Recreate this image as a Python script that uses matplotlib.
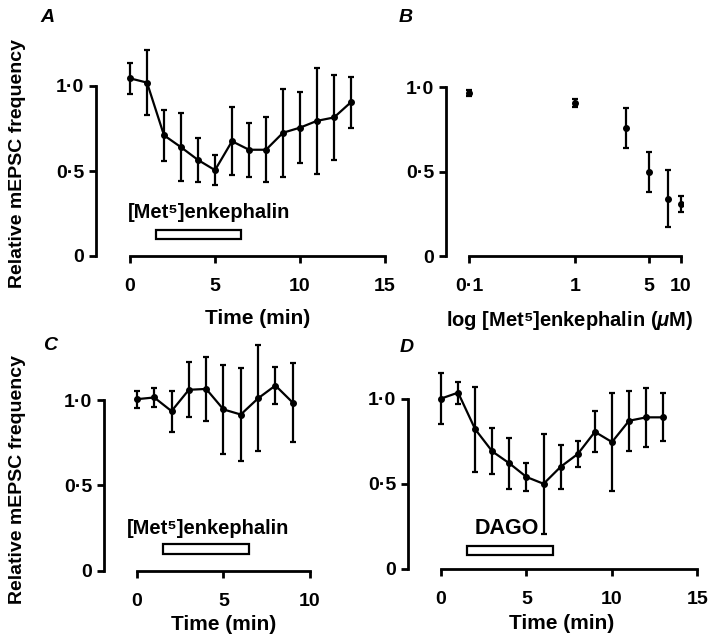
import matplotlib
matplotlib.use("Agg")
import matplotlib.pyplot as plt
from matplotlib.patches import Rectangle

plt.rcParams['font.family'] = ['Liberation Sans', 'DejaVu Sans']
plt.rcParams['font.weight'] = 'bold'
plt.rcParams['axes.labelweight'] = 'bold'
plt.rcParams['mathtext.fontset'] = 'custom'
plt.rcParams['mathtext.it'] = 'Liberation Sans:italic:bold'

# A: [Met5]enkephalin time course
a_time = [0, 1, 2, 3, 4, 5, 6, 7, 8, 9, 10, 11, 12, 13]
a_freq = [1.045, 1.02, 0.71, 0.64, 0.565, 0.505, 0.675, 0.625, 0.625, 0.725, 0.755, 0.795, 0.815, 0.905]
a_err = [0.09, 0.19, 0.15, 0.2, 0.13, 0.09, 0.2, 0.16, 0.19, 0.26, 0.21, 0.31, 0.25, 0.15]

# B: concentration response
b_conc = [0.1, 1, 3, 5, 7.5, 10]
b_freq = [0.965, 0.905, 0.757, 0.498, 0.34, 0.308]
b_err = [0.02, 0.025, 0.12, 0.12, 0.17, 0.05]

# C: [Met5]enkephalin, second set
c_time = [0, 1, 2, 3, 4, 5, 6, 7, 8, 9]
c_freq = [1.005, 1.015, 0.935, 1.06, 1.065, 0.945, 0.915, 1.01, 1.085, 0.985]
c_err = [0.05, 0.055, 0.12, 0.16, 0.19, 0.26, 0.27, 0.31, 0.11, 0.23]

# D: DAGO
d_time = [0, 1, 2, 3, 4, 5, 6, 7, 8, 9, 10, 11, 12, 13]
d_freq = [1.0, 1.035, 0.82, 0.69, 0.62, 0.54, 0.5, 0.6, 0.675, 0.805, 0.745, 0.87, 0.89, 0.89]
d_err = [0.15, 0.065, 0.25, 0.135, 0.15, 0.08, 0.295, 0.13, 0.075, 0.12, 0.285, 0.175, 0.175, 0.14]

# drug application bars (start, end in min)
a_drug = (1.5, 6.55)
c_drug = (1.5, 6.5)
d_drug = (1.5, 6.55)

yticks = [0, 0.5, 1.0]
ytick_labels = ["0", "0·5", "1·0"]
met = "[Met\u2075]enkephalin"

W, H = 709, 636
fig = plt.figure(figsize=(W / 100, H / 100), dpi=100)


def axes_px(left, right, top, bottom):
    return fig.add_axes([left / W, 1 - bottom / H, (right - left) / W, (bottom - top) / H])


def style(ax, xb, xt, xtl):
    for s in ["top", "right"]:
        ax.spines[s].set_visible(False)
    ax.spines["left"].set_bounds(0, 1)
    ax.spines["bottom"].set_bounds(*xb)
    ax.spines["bottom"].set_position(("data", 0))
    for s in ["left", "bottom"]:
        ax.spines[s].set_linewidth(2.0)
    ax.set_yticks(yticks)
    ax.set_yticklabels(ytick_labels)
    ax.set_xticks(xt)
    ax.set_xticklabels(xtl)
    ax.minorticks_off()
    ax.tick_params(width=2.0, length=5, labelsize=14, direction="out")
    ax.tick_params(axis="x", pad=11)
    ax.set_facecolor("none")


eb = dict(color="k", ms=4, lw=1.6, elinewidth=1.6, capsize=2.5, capthick=1.6)

# A
ax = axes_px(96, 393.5, 43.5, 259.4)
ax.set_xlim(-2, 15.5)
ax.set_ylim(-0.02, 1.25)
ax.errorbar(a_time, a_freq, yerr=a_err, fmt="-o", **eb)
ax.add_patch(Rectangle((a_drug[0], 0.1), a_drug[1] - a_drug[0], 0.053, facecolor="white", edgecolor="k", lw=1.6))
ax.text(-0.15, 0.255, met, fontsize=14.5, va="center", ha="left")
style(ax, (0, 15), [0, 5, 10, 15], ["0", "5", "10", "15"])
ax.set_xlabel("Time (min)", fontsize=15, labelpad=10)
ax.xaxis.label.set_x(0.543)

# B
ax = axes_px(446, 683.2, 44.75, 259.4)
ax.set_xscale("log")
ax.set_xlim(0.0607, 10.5)
ax.set_ylim(-0.02, 1.25)
ax.errorbar(b_conc, b_freq, yerr=b_err, fmt="o", **eb)
style(ax, (0.1, 10), [0.1, 1, 5, 10], ["0·1", "1", "5", "10"])
ax.set_xlabel("log " + met + " ($\\mu$M)", fontsize=14.5, labelpad=10)
ax.xaxis.label.set_x(0.523)

# C
ax = axes_px(104, 318.7, 340.3, 574.1)
ax.set_xlim(-1.9, 10.5)
ax.set_ylim(-0.02, 1.35)
ax.errorbar(c_time, c_freq, yerr=c_err, fmt="-o", **eb)
ax.add_patch(Rectangle((c_drug[0], 0.1), c_drug[1] - c_drug[0], 0.056, facecolor="white", edgecolor="k", lw=1.6))
ax.text(-0.55, 0.25, met, fontsize=14.5, va="center", ha="left")
style(ax, (0, 10), [0, 5, 10], ["0", "5", "10"])
ax.set_xlabel("Time (min)", fontsize=15, labelpad=4)
ax.xaxis.label.set_x(0.556)

# D
ax = axes_px(408, 702.6, 356, 572.4)
ax.set_xlim(-1.93, 15.3)
ax.set_ylim(-0.02, 1.25)
ax.errorbar(d_time, d_freq, yerr=d_err, fmt="-o", **eb)
ax.add_patch(Rectangle((d_drug[0], 0.082), d_drug[1] - d_drug[0], 0.053, facecolor="white", edgecolor="k", lw=1.6))
ax.text(3.85, 0.235, "DAGO", fontsize=15.5, va="center", ha="center")
style(ax, (0, 15), [0, 5, 10, 15], ["0", "5", "10", "15"])
ax.set_xlabel("Time (min)", fontsize=15, labelpad=4)
ax.xaxis.label.set_x(0.52)

# y labels and panel letters
fig.text(18 / W, 1 - 163 / H, "Relative mEPSC frequency", rotation=90, fontsize=14, ha="center", va="center")
fig.text(18 / W, 1 - 479 / H, "Relative mEPSC frequency", rotation=90, fontsize=14, ha="center", va="center")
for x, y, s in [(47, 17, "A"), (406, 17, "B"), (50, 345, "C"), (407, 347, "D")]:
    fig.text(x / W, 1 - y / H, s, fontsize=14, style="italic", ha="center", va="center")

fig.savefig("out.png", dpi=100)
